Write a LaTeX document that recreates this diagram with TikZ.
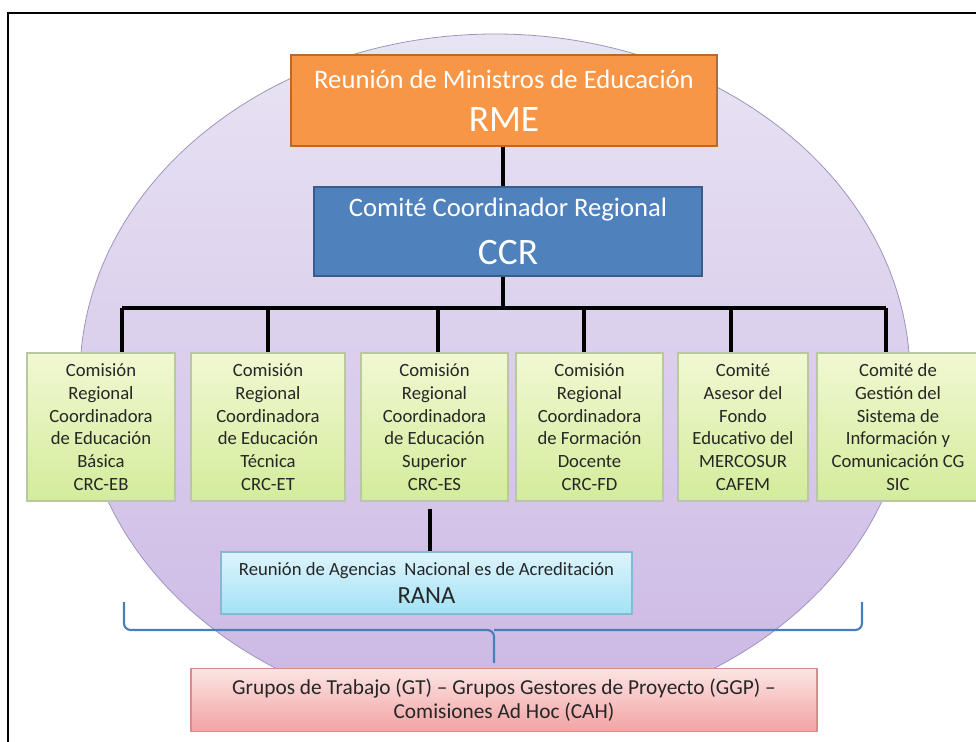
\documentclass[tikz,border=0pt]{standalone}
\usepackage{fontspec}
\setmainfont{Carlito}
\usepackage{tikz}

\definecolor{rmeorange}{HTML}{F79646}
\definecolor{rmeborder}{HTML}{B8692E}
\definecolor{ccrblue}{HTML}{4F81BD}
\definecolor{ccrborder}{HTML}{385D8A}
\definecolor{greentop}{HTML}{F1F8D2}
\definecolor{greenbot}{HTML}{D3EC9B}
\definecolor{greenborder}{HTML}{B9C8A0}
\definecolor{cyantop}{HTML}{DDF4FC}
\definecolor{cyanbot}{HTML}{A3E2F5}
\definecolor{cyanborder}{HTML}{86B9D2}
\definecolor{pinktop}{HTML}{FCE4E4}
\definecolor{pinkbot}{HTML}{F3A3A3}
\definecolor{pinkborder}{HTML}{D38E8C}
\definecolor{ovaltop}{HTML}{E9E4F4}
\definecolor{ovalbot}{HTML}{CBB7E4}
\definecolor{ovalborder}{HTML}{9E94BC}
\definecolor{braceblue}{HTML}{4A7EBB}
\definecolor{textdark}{HTML}{262626}

\tikzset{
  box/.style={draw, line width=0.8pt, inner sep=0pt, align=center},
  rmebox/.style={box, fill=rmeorange, draw=rmeborder, text=white,
    minimum width=319.5pt, minimum height=68.25pt},
  ccrbox/.style={box, fill=ccrblue, draw=ccrborder, text=white,
    minimum width=291pt, minimum height=66.75pt},
  crcbox/.style={box, top color=greentop, bottom color=greenbot, draw=greenborder,
    text=textdark, minimum height=111pt, font=\fontsize{14}{17}\selectfont},
  ranabox/.style={box, top color=cyantop, bottom color=cyanbot, draw=cyanborder,
    text=textdark, minimum width=308.25pt, minimum height=46.5pt},
  ahbox/.style={box, top color=pinktop, bottom color=pinkbot, draw=pinkborder,
    text=textdark, minimum width=469.5pt, minimum height=47.25pt,
    font=\fontsize{16}{18}\selectfont},
  conn/.style={line width=3pt, black},
  brace/.style={line width=1.6pt, braceblue, rounded corners=5pt},
}

\begin{document}
\begin{tikzpicture}[x=0.75pt, y=-0.75pt]
  \useasboundingbox (0,0) rectangle (976,742);
  \draw[line width=1.5pt] (8,742) -- (8,13) -- (976,13);
  \draw[top color=ovaltop, bottom color=ovalbot, draw=ovalborder, line width=0.6pt]
    (495,377) ellipse [x radius=311.25pt, y radius=257.25pt];

  \draw (504,100.5) node[rmebox] (rme)
    {\fontsize{20}{24}\selectfont Reunión de Ministros de Educación\\[13pt]
     \fontsize{28}{30}\selectfont RME};
  \draw (508,231.5) node[ccrbox] (ccr)
    {\fontsize{20}{24}\selectfont Comité Coordinador Regional\\[13pt]
     \fontsize{28}{30}\selectfont CCR};

  \draw (101,427) node[crcbox, minimum width=111pt] (eb)
    {Comisión\\Regional\\Coordinadora\\de Educación\\Básica\\CRC-EB};
  \draw (268,427) node[crcbox, minimum width=115.5pt] (et)
    {Comisión\\Regional\\Coordinadora\\de Educación\\Técnica\\CRC-ET};
  \draw (434.5,427) node[crcbox, minimum width=110.25pt] (es)
    {Comisión\\Regional\\Coordinadora\\de Educación\\Superior\\CRC-ES};
  \draw (589.5,427) node[crcbox, minimum width=110.25pt] (fd)
    {Comisión\\Regional\\Coordinadora\\de Formación\\Docente\\CRC-FD};
  \draw (743,427) node[crcbox, minimum width=97.5pt] (cafem)
    {Comité\\Asesor del\\Fondo\\Educativo del\\MERCOSUR\\CAFEM};
  \draw (898,427) node[crcbox, minimum width=121.5pt] (sic)
    {Comité de\\Gestión del\\Sistema de\\Información y\\Comunicación CG\\SIC};

  \draw (426.5,583) node[ranabox] (rana)
    {\fontsize{14}{16}\selectfont Reunión de Agencias\ \ Nacional es de Acreditación\\[6pt]
     \fontsize{18.5}{20}\selectfont RANA};
  \draw (504,700) node[ahbox] (ah)
    {Grupos de Trabajo (GT) -- Grupos Gestores de Proyecto (GGP) --\\
     Comisiones Ad Hoc (CAH)};

  \coordinate (busC) at (503,308);
  \coordinate (b1) at (122,308);
  \coordinate (b2) at (268,308);
  \coordinate (b3) at (438,308);
  \coordinate (b4) at (584,308);
  \coordinate (b5) at (731,308);
  \coordinate (b6) at (886,308);

  \path[conn] (busC |- rme.south) edge (busC |- ccr.north);
  \path[conn] (busC |- ccr.south) edge (busC);
  \path[conn] (b1) edge (b6);
  \path[conn] (b1) edge (b1 |- eb.north);
  \path[conn] (b2) edge (b2 |- et.north);
  \path[conn] (b3) edge (b3 |- es.north);
  \path[conn] (b4) edge (b4 |- fd.north);
  \path[conn] (b5) edge (b5 |- cafem.north);
  \path[conn] (b6) edge (b6 |- sic.north);
  \path[conn] (430,509) edge (430,552 |- rana.north);

  \draw[brace] (124,602) |- (494,630) -- (494,663);
  \draw[brace] (494,630) -| (862,602);
\end{tikzpicture}
\end{document}
